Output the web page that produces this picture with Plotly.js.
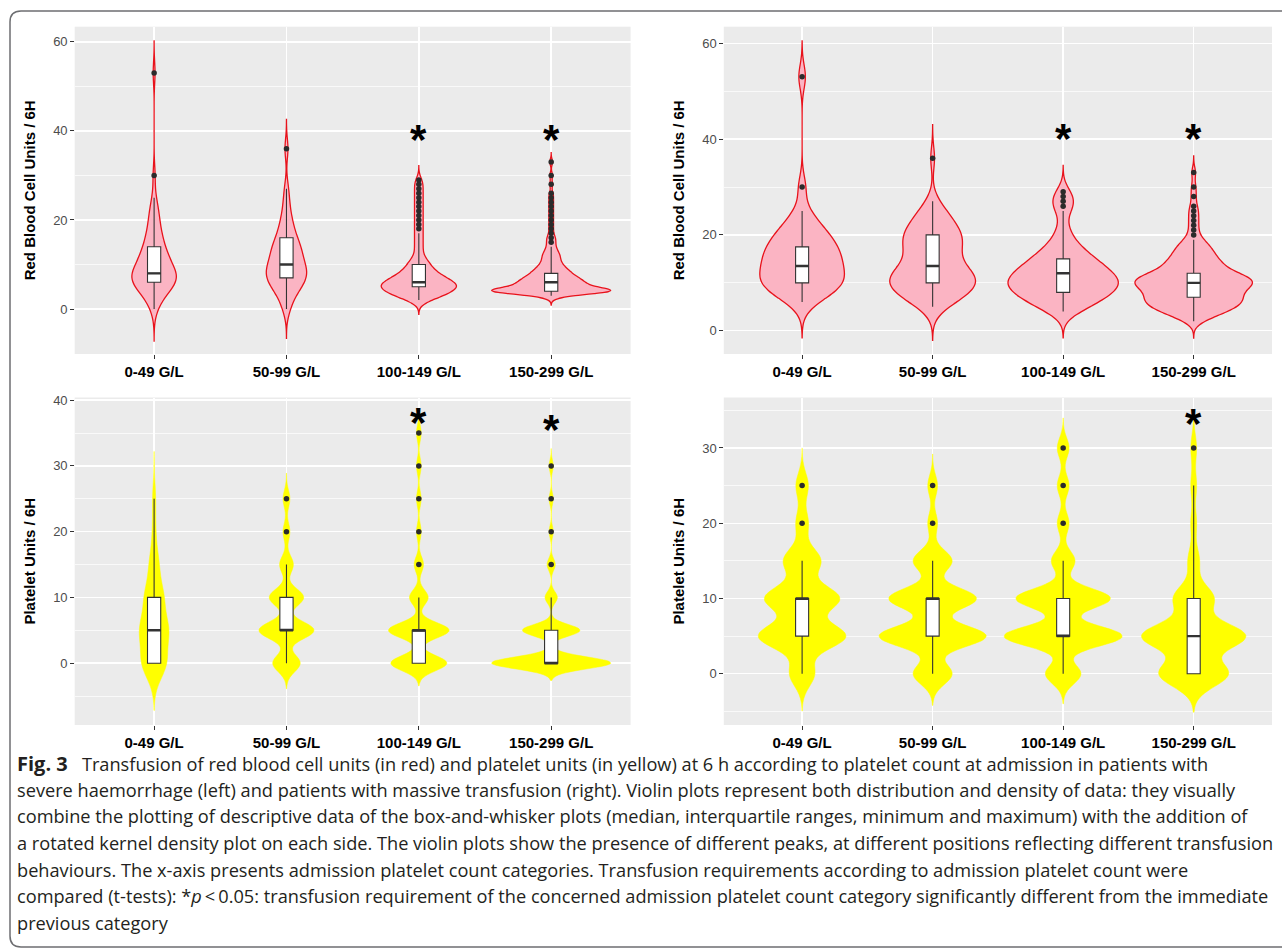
<!DOCTYPE html>
<html>
<head>
<meta charset="utf-8">
<script src="https://cdn.plot.ly/plotly-3.0.1.min.js"></script>
<style>
html,body{margin:0;padding:0;background:#fff;}
#chart{width:1282px;height:949px;}
</style>
</head>
<body>
<div id="chart"></div>
<script>
// ---------------- DATA ----------------
const categories = ['0-49 G/L', '50-99 G/L', '100-149 G/L', '150-299 G/L'];

// Red blood cell units / 6H - severe haemorrhage (top left)
const rbcSevereValues = [
  [0,1,2,3,4,5,6,7,8,9,10,11,12,13,14,15,16,17,18,19,20,21,22,23,25,30,53],
  [0,1,3,4,5,6,7,8,9,10,11,12,13,14,15,16,17,18,19,20,22,24,27,36],
  [2,3,4,5,6,7,8,9,10,11,12,13,14,15,16,17,18,19,20,21,22,23,24,25,26,27,28,29],
  [3,4,5,6,7,8,9,10,11,12,13,14,15,16,17,18,19,20,21,22,23,24,25,26,28,30,33]
];
const rbcSevereCounts = [
  [1,1,1,2,3,3,5,6,5,3,3,3,3,2,2,2,1,2,1,1,1,1,1,1,1,1,1],
  [1,1,1,2,2,2,3,3,3,2,2,2,2,2,2,1,1,1,1,1,1,1,1,1],
  [3,6,8,10,9,6,5,3,3,2,1,1,1,1,1,1,1,1,1,1,1,1,1,1,1,1,1,1],
  [5,36,16,15,12,9,7,5,4,4,3,2,2,2,1,1,1,1,1,1,1,1,1,1,1,1,1]
];
const rbcSevereBandwidth = [2.4, 2.2, 1.07, 0.7];
const rbcSevereQ1 = [6, 7, 5, 4];
const rbcSevereMedian = [8, 10, 6, 6];
const rbcSevereQ3 = [14, 16, 10, 8];
const rbcSevereLow = [0, 0, 2, 3];
const rbcSevereHigh = [25, 27, 17, 14];
const rbcSevereOutliers = [
  [30, 53],
  [36],
  [18,19,20,21,22,23,24,25,26,27,28,29],
  [15,16,17,18,19,20,21,22,23,24,25,26,28,30,33]
];

// Red blood cell units / 6H - massive transfusion (top right)
const rbcMassiveValues = [
  [6,7,8,9,10,11,12,13,14,15,16,17,18,19,20,21,22,23,25,30,53],
  [5,6,7,8,9,10,11,12,13,14,15,16,17,18,19,20,21,22,23,24,25,26,27,36],
  [4,5,6,7,8,9,10,11,12,13,14,15,16,17,18,19,20,22,25,26,27,28,29],
  [2,3,4,5,6,7,8,9,10,11,12,13,14,15,16,17,18,19,20,21,22,23,24,25,26,28,30,33]
];
const rbcMassiveCounts = [
  [1,1,2,2,3,2,2,2,2,2,2,2,2,1,2,1,1,1,1,1,1],
  [2,2,3,4,4,5,5,4,3,3,2,2,3,3,3,3,3,2,2,2,1,1,1,1],
  [2,2,3,4,4,5,5,5,4,4,3,3,2,2,1,1,1,1,1,1,1,1,1],
  [2,4,7,9,10,10,9,11,13,12,9,6,6,5,4,4,3,2,1,1,1,1,1,1,1,1,1,1]
];
const rbcMassiveBandwidth = [2.5, 2.33, 1.83, 1.17];
const rbcMassiveQ1 = [10, 10, 8, 7];
const rbcMassiveMedian = [13.5, 13.5, 12, 10];
const rbcMassiveQ3 = [17.5, 20, 15, 12];
const rbcMassiveLow = [6, 5, 4, 2];
const rbcMassiveHigh = [25, 27, 25, 19];
const rbcMassiveOutliers = [
  [30, 53],
  [36],
  [26, 27, 28, 29],
  [20,21,22,23,24,25,26,28,30,33]
];

// Platelet units / 6H - severe haemorrhage (bottom left)
const pltSevereValues = [
  [0,5,10,15,20,25],
  [0,5,10,15,20,25],
  [0,5,10,15,20,25,30,35],
  [0,1,5,10,15,20,25,30]
];
const pltSevereCounts = [
  [8,9,6,3,1,1],
  [4,8,5,2,1,1],
  [12,13,4,2,1,1,1,1],
  [28,2,14,3,2,1,1,1]
];
const pltSevereBandwidth = [2.4, 1.3, 1.15, 0.88];
const pltSevereQ1 = [0, 5, 0, 0];
const pltSevereMedian = [5, 5, 5, 0];
const pltSevereQ3 = [10, 10, 5, 5];
const pltSevereLow = [0, 0, 0, 0];
const pltSevereHigh = [25, 15, 10, 10];
const pltSevereOutliers = [
  [],
  [20, 25],
  [15, 20, 25, 30, 35],
  [15, 20, 25, 30]
];

// Platelet units / 6H - massive transfusion (bottom right)
const pltMassiveValues = [
  [0,5,10,15,20,25],
  [0,5,10,15,20,25],
  [0,5,10,15,20,25,30],
  [0,5,10,15,20,25,30]
];
const pltMassiveCounts = [
  [2,7,6,3,1,1],
  [4,11,9,4,1,1],
  [3,10,8,2,1,1,1],
  [12,18,7,2,1,1,1]
];
const pltMassiveBandwidth = [1.65, 1.4, 1.33, 1.7];
const pltMassiveQ1 = [5, 5, 5, 0];
const pltMassiveMedian = [10, 10, 5, 5];
const pltMassiveQ3 = [10, 10, 10, 10];
const pltMassiveLow = [0, 0, 0, 0];
const pltMassiveHigh = [15, 15, 15, 25];
const pltMassiveOutliers = [
  [20, 25],
  [20, 25],
  [20, 25, 30],
  [30]
];

// significance stars: [category index, y value] per panel
const rbcSevereStars = [[2, 40], [3, 40]];
const rbcMassiveStars = [[2, 42], [3, 42]];
const pltSevereStars = [[2, 37.9], [3, 36.9]];
const pltMassiveStars = [[3, 34.4]];

const yTitles = ['Red Blood Cell Units / 6H', 'Red Blood Cell Units / 6H', 'Platelet Units / 6H', 'Platelet Units / 6H'];

const captionLines = [
  '<b><span style="font-size:20px">Fig. 3</span></b>\u00a0\u00a0\u00a0Transfusion of red blood cell units (in red) and platelet units (in yellow) at 6 h according to platelet count at admission in patients with',
  'severe haemorrhage (left) and patients with massive transfusion (right). Violin plots represent both distribution and density of data: they visually',
  'combine the plotting of descriptive data of the box-and-whisker plots (median, interquartile ranges, minimum and maximum) with the addition of',
  'a rotated kernel density plot on each side. The violin plots show the presence of different peaks, at different positions reflecting different transfusion',
  'behaviours. The x-axis presents admission platelet count categories. Transfusion requirements according to admission platelet count were',
  'compared (t-tests): *<i>p</i>\u2009&lt;\u20090.05: transfusion requirement of the concerned admission platelet count category significantly different from the immediate',
  'previous category'
];

// ---------------- BUILD ----------------
const W = 1282, H = 949;
function px(x) { return x / W; }
function py(y) { return 1 - y / H; }

function expand(values, counts) {
  const out = [];
  values.forEach((v, i) => { for (let k = 0; k < counts[i]; k++) out.push(v); });
  return out;
}

const RED_FILL = '#FBB4C3', RED_LINE = '#E8121B';
const YEL_FILL = '#FFFF00', YEL_LINE = '#FFFF00';

const panels = [
  {id: 'rbcSevere', xa: 'x', ya: 'y', values: rbcSevereValues, counts: rbcSevereCounts, bw: rbcSevereBandwidth,
   q1: rbcSevereQ1, med: rbcSevereMedian, q3: rbcSevereQ3, lo: rbcSevereLow, hi: rbcSevereHigh, out: rbcSevereOutliers,
   stars: rbcSevereStars, fill: RED_FILL, line: RED_LINE, lw: 1.3},
  {id: 'rbcMassive', xa: 'x2', ya: 'y2', values: rbcMassiveValues, counts: rbcMassiveCounts, bw: rbcMassiveBandwidth,
   q1: rbcMassiveQ1, med: rbcMassiveMedian, q3: rbcMassiveQ3, lo: rbcMassiveLow, hi: rbcMassiveHigh, out: rbcMassiveOutliers,
   stars: rbcMassiveStars, fill: RED_FILL, line: RED_LINE, lw: 1.3},
  {id: 'pltSevere', xa: 'x3', ya: 'y3', values: pltSevereValues, counts: pltSevereCounts, bw: pltSevereBandwidth,
   q1: pltSevereQ1, med: pltSevereMedian, q3: pltSevereQ3, lo: pltSevereLow, hi: pltSevereHigh, out: pltSevereOutliers,
   stars: pltSevereStars, fill: YEL_FILL, line: YEL_LINE, lw: 0.5},
  {id: 'pltMassive', xa: 'x4', ya: 'y4', values: pltMassiveValues, counts: pltMassiveCounts, bw: pltMassiveBandwidth,
   q1: pltMassiveQ1, med: pltMassiveMedian, q3: pltMassiveQ3, lo: pltMassiveLow, hi: pltMassiveHigh, out: pltMassiveOutliers,
   stars: pltMassiveStars, fill: YEL_FILL, line: YEL_LINE, lw: 0.5}
];

const traces = [];
const annotations = [];

panels.forEach(p => {
  // violins (one trace per category so each keeps its own bandwidth; shared scale group => equal areas)
  categories.forEach((cat, i) => {
    const ys = expand(p.values[i], p.counts[i]);
    const bw = p.bw[i];
    const lo = Math.min(...ys), hi = Math.max(...ys);
    traces.push({
      type: 'violin', x: ys.map(() => cat), y: ys, xaxis: p.xa, yaxis: p.ya,
      name: cat, bandwidth: bw, spanmode: 'manual', span: [lo - 3 * bw, hi + 3 * bw],
      scalegroup: p.id, scalemode: 'width', side: 'both',
      fillcolor: p.fill, line: {color: p.line, width: p.lw},
      points: false, box: {visible: false}, meanline: {visible: false},
      hoverinfo: 'skip', showlegend: false
    });
  });
  // boxes
  traces.push({
    type: 'box', x: categories, xaxis: p.xa, yaxis: p.ya,
    q1: p.q1, median: p.med, q3: p.q3, lowerfence: p.lo, upperfence: p.hi,
    width: 0.1, whiskerwidth: 0, fillcolor: '#FFFFFF', line: {color: '#333333', width: 1.1},
    boxpoints: false, hoverinfo: 'skip', showlegend: false
  });
  // thicker median line (zero-height box)
  traces.push({
    type: 'box', x: categories, xaxis: p.xa, yaxis: p.ya,
    q1: p.med, median: p.med, q3: p.med, lowerfence: p.med, upperfence: p.med,
    width: 0.1, whiskerwidth: 0, fillcolor: 'rgba(0,0,0,0)', line: {color: '#333333', width: 2.4},
    boxpoints: false, hoverinfo: 'skip', showlegend: false
  });
  // outliers
  const ox = [], oy = [];
  p.out.forEach((arr, i) => arr.forEach(v => { ox.push(categories[i]); oy.push(v); }));
  traces.push({
    type: 'scatter', mode: 'markers', x: ox, y: oy, xaxis: p.xa, yaxis: p.ya,
    marker: {size: 5.5, color: '#2B2B2B'}, hoverinfo: 'skip', showlegend: false
  });
  // stars
  p.stars.forEach(s => {
    annotations.push({
      xref: p.xa, yref: p.ya, x: categories[s[0]], y: s[1], text: '*', showarrow: false,
      font: {family: 'Liberation Sans, Arial, sans-serif', size: 42, color: '#000', weight: 'bold'},
      xanchor: 'center', yanchor: 'middle', yshift: -9
    });
  });
});

// caption
const capY = [763, 789.5, 816, 843, 869.5, 896, 923];
captionLines.forEach((t, i) => {
  annotations.push({
    xref: 'paper', yref: 'paper', x: px(15), y: py(capY[i]), text: t, showarrow: false,
    xanchor: 'left', yanchor: 'middle', align: 'left',
    font: {family: 'Open Sans, Noto Sans, sans-serif', size: 18.2, color: '#231F20'}
  });
});

function xAxis(domain, anchor) {
  return {
    domain: domain, anchor: anchor, type: 'category', categoryorder: 'array', categoryarray: categories,
    range: [-0.6, 3.6], showgrid: true, gridcolor: '#FFFFFF', gridwidth: 1.4,
    ticks: 'outside', ticklen: 3.5, tickcolor: '#333333', tickwidth: 1,
    tickfont: {family: 'Liberation Sans, Arial, sans-serif', size: 15, color: '#000', weight: 'bold'},
    showline: false, zeroline: false, fixedrange: true
  };
}
function yAxis(domain, anchor, range, dtick, minor, title) {
  return {
    domain: domain, anchor: anchor, range: range, tickmode: 'linear', tick0: 0, dtick: dtick,
    showgrid: true, gridcolor: '#FFFFFF', gridwidth: 1.4,
    minor: {tick0: 0, dtick: minor, showgrid: true, gridcolor: '#FFFFFF', gridwidth: 0.7, ticks: ''},
    ticks: 'outside', ticklen: 3.5, tickcolor: '#333333', tickwidth: 1,
    tickfont: {family: 'Liberation Sans, Arial, sans-serif', size: 13, color: '#4D4D4D'},
    zeroline: false, showline: false, fixedrange: true,
    title: {text: title, standoff: 13, font: {family: 'Liberation Sans, Arial, sans-serif', size: 15, color: '#000', weight: 'bold'}}
  };
}

const leftX = [px(74.7), px(630.6)];
const rightX = [px(723.8), px(1272)];
const topY = [py(354), py(26.7)];
const botY = [py(725), py(397.5)];

const layout = {
  width: W, height: H, margin: {l: 0, r: 0, t: 0, b: 0},
  paper_bgcolor: '#FFFFFF', plot_bgcolor: '#EBEBEB', showlegend: false,
  violinmode: 'overlay', violingap: 0.1, violingroupgap: 0, boxmode: 'overlay',
  font: {family: 'Liberation Sans, Arial, sans-serif'},
  xaxis: xAxis(leftX, 'y'),
  yaxis: yAxis(topY, 'x', [-10.1, 63.4], 20, 10, yTitles[0]),
  xaxis2: xAxis(rightX, 'y2'),
  yaxis2: yAxis(topY, 'x2', [-4.85, 63.45], 20, 10, yTitles[1]),
  xaxis3: xAxis(leftX, 'y3'),
  yaxis3: yAxis(botY, 'x3', [-9.4, 40.4], 10, 5, yTitles[2]),
  xaxis4: xAxis(rightX, 'y4'),
  yaxis4: yAxis(botY, 'x4', [-6.8, 36.7], 10, 5, yTitles[3]),
  annotations: annotations,
  shapes: [{
    type: 'path', xref: 'paper', yref: 'paper', xsizemode: 'pixel', ysizemode: 'pixel', xanchor: 0, yanchor: 1,
    path: 'M 1300,-11 L 21,-11 Q 10,-11 10,-22 L 10,-936 Q 10,-947 21,-947 L 1300,-947',
    line: {color: '#6D6E71', width: 1.5}, layer: 'below'
  }]
};

Plotly.newPlot('chart', traces, layout, {staticPlot: true, displayModeBar: false});
</script>
</body>
</html>
